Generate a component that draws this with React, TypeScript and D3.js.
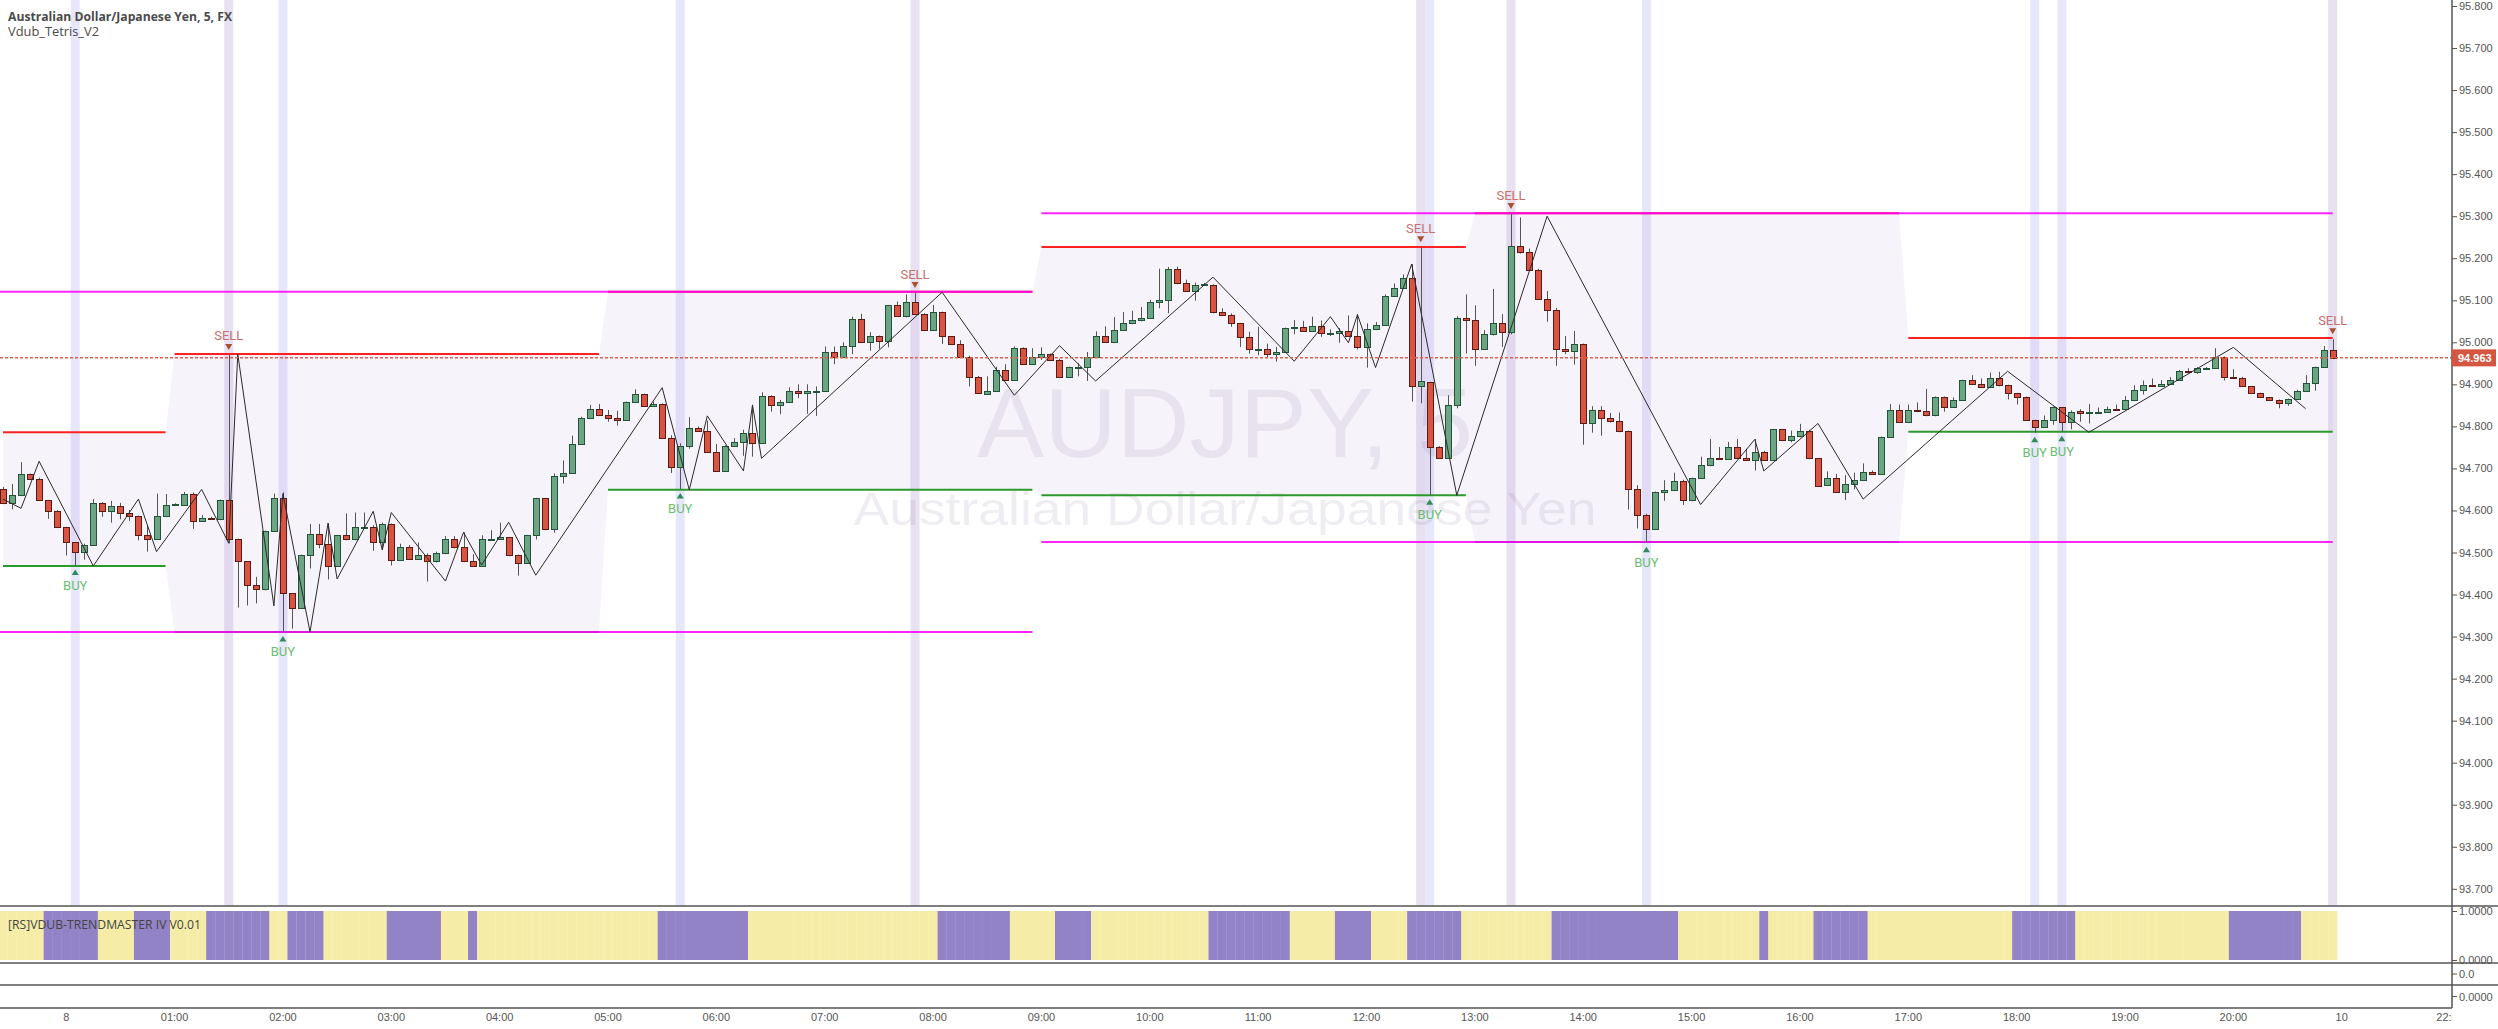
import { useEffect, useRef } from "react";
import * as d3 from "d3";

const width = 2498;
const height = 1029;

// 5-minute AUDJPY bars
const opens = [
  94.652, 94.617, 94.636, 94.686, 94.676, 94.624, 94.598, 94.56, 94.524, 94.5,
  94.519, 94.617, 94.598, 94.61, 94.594, 94.587, 94.541, 94.533, 94.586, 94.614,
  94.614, 94.64, 94.575, 94.583, 94.58, 94.624, 94.533, 94.479, 94.422, 94.412,
  94.552, 94.629, 94.403, 94.369, 94.495, 94.545, 94.521, 94.469, 94.541, 94.531,
  94.559, 94.561, 94.524, 94.567, 94.483, 94.514, 94.485, 94.495, 94.479, 94.498,
  94.533, 94.512, 94.479, 94.469, 94.531, 94.533, 94.536, 94.493, 94.476, 94.541,
  94.629, 94.555, 94.683, 94.69, 94.759, 94.821, 94.842, 94.828, 94.821, 94.815,
  94.858, 94.877, 94.848, 94.854, 94.772, 94.703, 94.753, 94.796, 94.79, 94.739,
  94.693, 94.753, 94.762, 94.785, 94.76, 94.873, 94.85, 94.858, 94.884, 94.879,
  94.882, 94.884, 94.977, 94.965, 94.991, 95.055, 95.0, 95.015, 95.003, 95.088,
  95.062, 95.097, 95.067, 95.029, 95.072, 95.015, 94.996, 94.966, 94.917, 94.878,
  94.884, 94.934, 94.91, 94.986, 94.948, 94.966, 94.971, 94.958, 94.917, 94.939,
  94.941, 94.965, 95.015, 95.0, 95.029, 95.046, 95.053, 95.057, 95.096, 95.1,
  95.175, 95.14, 95.122, 95.136, 95.136, 95.071, 95.066, 95.045, 95.012, 94.981,
  94.983, 94.971, 94.978, 95.033, 95.036, 95.028, 95.038, 95.021, 95.021, 95.026,
  95.016, 94.99, 95.031, 95.042, 95.111, 95.128, 95.154, 94.897, 94.906, 94.751,
  94.725, 94.85, 95.057, 95.054, 94.985, 95.019, 95.047, 95.024, 95.228, 95.214,
  95.173, 95.104, 95.076, 94.985, 94.98, 94.995, 94.809, 94.838, 94.821, 94.812,
  94.788, 94.65, 94.59, 94.557, 94.643, 94.649, 94.671, 94.624, 94.677, 94.707,
  94.724, 94.722, 94.752, 94.724, 94.72, 94.74, 94.721, 94.793, 94.767, 94.776,
  94.79, 94.724, 94.661, 94.677, 94.643, 94.663, 94.672, 94.692, 94.687, 94.774,
  94.839, 94.81, 94.839, 94.837, 94.826, 94.869, 94.845, 94.863, 94.91, 94.902,
  94.893, 94.914, 94.898, 94.879, 94.869, 94.815, 94.798, 94.815, 94.845, 94.81,
  94.836, 94.832, 94.833, 94.834, 94.841, 94.841, 94.862, 94.887, 94.898, 94.896,
  94.902, 94.91, 94.931, 94.93, 94.937, 94.938, 94.966, 94.917, 94.916, 94.895,
  94.879, 94.869, 94.863, 94.855, 94.864, 94.884, 94.903, 94.941, 94.981,
];
const highs = [
  94.656, 94.663, 94.715, 94.688, 94.678, 94.625, 94.601, 94.561, 94.525, 94.521,
  94.627, 94.62, 94.623, 94.618, 94.601, 94.588, 94.565, 94.64, 94.639, 94.617,
  94.644, 94.643, 94.589, 94.585, 94.626, 94.97, 94.533, 94.479, 94.442, 94.552,
  94.64, 94.643, 94.403, 94.495, 94.568, 94.568, 94.569, 94.542, 94.593, 94.595,
  94.595, 94.565, 94.571, 94.569, 94.521, 94.518, 94.524, 94.498, 94.502, 94.539,
  94.539, 94.548, 94.496, 94.541, 94.553, 94.571, 94.537, 94.495, 94.542, 94.63,
  94.63, 94.688, 94.719, 94.778, 94.823, 94.851, 94.853, 94.839, 94.837, 94.859,
  94.888, 94.878, 94.859, 94.855, 94.779, 94.76, 94.822, 94.8, 94.814, 94.758,
  94.755, 94.772, 94.792, 94.851, 94.881, 94.874, 94.863, 94.893, 94.9, 94.9,
  94.895, 94.99, 94.99, 95.0, 95.061, 95.068, 95.024, 95.016, 95.089, 95.097,
  95.114, 95.117, 95.069, 95.089, 95.073, 95.015, 95.005, 94.968, 94.92, 94.919,
  94.942, 94.948, 94.99, 94.988, 94.986, 94.988, 94.973, 94.961, 94.942, 94.95,
  94.977, 95.026, 95.038, 95.06, 95.072, 95.075, 95.084, 95.101, 95.175, 95.179,
  95.18, 95.149, 95.142, 95.141, 95.138, 95.081, 95.069, 95.046, 95.025, 95.037,
  94.997, 94.989, 95.035, 95.053, 95.051, 95.061, 95.052, 95.031, 95.034, 95.064,
  95.067, 95.045, 95.048, 95.114, 95.14, 95.161, 95.186, 95.226, 94.906, 94.753,
  94.874, 95.062, 95.114, 95.088, 95.029, 95.127, 95.067, 95.305, 95.297, 95.223,
  95.175, 95.122, 95.082, 95.015, 95.027, 94.997, 94.848, 94.848, 94.832, 94.833,
  94.79, 94.66, 94.592, 94.645, 94.672, 94.69, 94.673, 94.678, 94.728, 94.77,
  94.751, 94.763, 94.77, 94.747, 94.77, 94.742, 94.794, 94.794, 94.79, 94.806,
  94.792, 94.725, 94.693, 94.687, 94.684, 94.69, 94.712, 94.695, 94.776, 94.853,
  94.852, 94.852, 94.857, 94.889, 94.871, 94.871, 94.869, 94.911, 94.922, 94.914,
  94.928, 94.93, 94.899, 94.88, 94.871, 94.816, 94.826, 94.847, 94.846, 94.838,
  94.841, 94.853, 94.845, 94.847, 94.852, 94.872, 94.898, 94.909, 94.914, 94.91,
  94.917, 94.934, 94.938, 94.941, 94.941, 94.986, 94.966, 94.936, 94.918, 94.896,
  94.88, 94.87, 94.864, 94.866, 94.887, 94.922, 94.942, 94.991, 95.007,
];
const lows = [
  94.615, 94.603, 94.634, 94.675, 94.623, 94.58, 94.558, 94.493, 94.469, 94.483,
  94.518, 94.585, 94.571, 94.579, 94.575, 94.529, 94.502, 94.531, 94.584, 94.613,
  94.613, 94.556, 94.573, 94.579, 94.577, 94.522, 94.369, 94.374, 94.379, 94.41,
  94.551, 94.311, 94.319, 94.368, 94.462, 94.51, 94.436, 94.468, 94.529, 94.529,
  94.557, 94.504, 94.506, 94.469, 94.482, 94.483, 94.483, 94.431, 94.476, 94.496,
  94.51, 94.477, 94.468, 94.468, 94.529, 94.532, 94.491, 94.445, 94.475, 94.531,
  94.553, 94.547, 94.664, 94.689, 94.758, 94.819, 94.826, 94.811, 94.802, 94.813,
  94.856, 94.846, 94.846, 94.77, 94.689, 94.651, 94.747, 94.788, 94.737, 94.692,
  94.692, 94.751, 94.73, 94.728, 94.758, 94.835, 94.829, 94.856, 94.867, 94.83,
  94.825, 94.882, 94.948, 94.963, 94.972, 94.999, 94.98, 94.984, 94.988, 95.061,
  95.059, 95.065, 95.027, 95.027, 94.996, 94.994, 94.965, 94.895, 94.877, 94.877,
  94.882, 94.908, 94.908, 94.946, 94.946, 94.958, 94.956, 94.915, 94.915, 94.919,
  94.908, 94.963, 94.999, 94.998, 95.027, 95.043, 95.05, 95.056, 95.081, 95.069,
  95.138, 95.12, 95.099, 95.134, 95.069, 95.065, 95.037, 94.989, 94.973, 94.969,
  94.963, 94.954, 94.977, 95.019, 95.027, 95.026, 95.013, 95.015, 94.999, 95.013,
  94.983, 94.94, 95.029, 95.041, 95.11, 95.127, 94.859, 94.855, 94.636, 94.724,
  94.724, 94.843, 94.973, 94.944, 94.983, 95.016, 94.989, 95.019, 95.211, 95.172,
  95.103, 95.049, 94.944, 94.972, 94.947, 94.756, 94.785, 94.778, 94.809, 94.786,
  94.602, 94.557, 94.523, 94.556, 94.623, 94.648, 94.613, 94.622, 94.675, 94.705,
  94.72, 94.72, 94.722, 94.718, 94.695, 94.72, 94.72, 94.765, 94.762, 94.774,
  94.722, 94.658, 94.658, 94.642, 94.625, 94.65, 94.67, 94.685, 94.685, 94.773,
  94.808, 94.808, 94.835, 94.824, 94.824, 94.835, 94.844, 94.861, 94.9, 94.891,
  94.891, 94.895, 94.864, 94.852, 94.813, 94.785, 94.796, 94.804, 94.787, 94.793,
  94.811, 94.807, 94.831, 94.833, 94.838, 94.839, 94.861, 94.876, 94.895, 94.895,
  94.9, 94.908, 94.928, 94.925, 94.937, 94.937, 94.909, 94.914, 94.895, 94.877,
  94.868, 94.861, 94.843, 94.849, 94.863, 94.883, 94.885, 94.939, 94.96,
];
const closes = [
  94.617, 94.636, 94.686, 94.676, 94.624, 94.598, 94.56, 94.524, 94.5, 94.519,
  94.617, 94.598, 94.61, 94.593, 94.587, 94.541, 94.533, 94.586, 94.614, 94.615,
  94.64, 94.575, 94.583, 94.58, 94.624, 94.533, 94.479, 94.422, 94.412, 94.552,
  94.629, 94.403, 94.369, 94.495, 94.545, 94.521, 94.469, 94.541, 94.531, 94.56,
  94.561, 94.524, 94.567, 94.483, 94.514, 94.485, 94.495, 94.479, 94.498, 94.533,
  94.512, 94.479, 94.469, 94.531, 94.533, 94.536, 94.493, 94.476, 94.541, 94.629,
  94.555, 94.683, 94.69, 94.759, 94.821, 94.842, 94.828, 94.821, 94.814, 94.858,
  94.877, 94.848, 94.853, 94.772, 94.703, 94.753, 94.796, 94.79, 94.739, 94.693,
  94.753, 94.762, 94.785, 94.76, 94.873, 94.85, 94.858, 94.884, 94.879, 94.884,
  94.884, 94.977, 94.965, 94.991, 95.055, 95.0, 95.015, 95.003, 95.088, 95.062,
  95.097, 95.067, 95.029, 95.072, 95.015, 94.996, 94.966, 94.917, 94.879, 94.884,
  94.934, 94.91, 94.986, 94.948, 94.966, 94.971, 94.958, 94.917, 94.941, 94.941,
  94.965, 95.015, 95.0, 95.029, 95.046, 95.053, 95.057, 95.096, 95.1, 95.175,
  95.14, 95.122, 95.136, 95.138, 95.072, 95.066, 95.045, 95.012, 94.983, 94.983,
  94.971, 94.978, 95.033, 95.036, 95.028, 95.038, 95.021, 95.023, 95.026, 95.016,
  94.99, 95.031, 95.042, 95.111, 95.128, 95.154, 94.897, 94.907, 94.751, 94.725,
  94.85, 95.057, 95.054, 94.985, 95.019, 95.047, 95.024, 95.228, 95.214, 95.173,
  95.104, 95.076, 94.985, 94.98, 94.995, 94.809, 94.838, 94.821, 94.812, 94.788,
  94.65, 94.59, 94.557, 94.643, 94.649, 94.671, 94.624, 94.677, 94.707, 94.724,
  94.722, 94.752, 94.724, 94.72, 94.74, 94.721, 94.793, 94.767, 94.776, 94.79,
  94.724, 94.659, 94.677, 94.643, 94.663, 94.672, 94.692, 94.687, 94.774, 94.839,
  94.81, 94.839, 94.837, 94.826, 94.869, 94.845, 94.863, 94.91, 94.902, 94.893,
  94.914, 94.898, 94.879, 94.869, 94.815, 94.798, 94.815, 94.845, 94.81, 94.835,
  94.832, 94.834, 94.834, 94.841, 94.84, 94.862, 94.887, 94.898, 94.896, 94.902,
  94.91, 94.931, 94.93, 94.938, 94.939, 94.966, 94.917, 94.916, 94.896, 94.879,
  94.869, 94.863, 94.855, 94.864, 94.884, 94.903, 94.941, 94.981, 94.963,
];

// Tetris zones (bar ranges) with their resistance / support levels
const zoneStarts = [0, 19, 67, 115, 163, 211];
const zoneEnds = [18, 66, 114, 162, 210, 258];
const resistance = [94.786, 94.972, 95.12, 95.227, 95.307, 95.01];
const support = [94.468, 94.311, 94.649, 94.636, 94.525, 94.787];

// outer range boxes (magenta)
const boxStarts = [0, 115];
const boxEnds = [114, 258];
const boxHighs = [95.12, 95.307];
const boxLows = [94.311, 94.525];

// zigzag pivots
const zigzagBars = [
  0, 2, 4, 10, 15, 17, 22, 25, 26, 30, 31, 34, 36, 37, 41, 42, 43, 49, 51, 53,
  56, 59, 73, 76, 78, 82, 83, 84, 104, 112, 117, 121, 134, 143, 147, 149, 150,
  152, 156, 161, 171, 188, 194, 195, 201, 206, 222, 231, 247, 255,
];
const zigzagPrices = [
  94.627, 94.605, 94.717, 94.468, 94.627, 94.502, 94.65, 94.522, 94.972, 94.373,
  94.64, 94.311, 94.57, 94.437, 94.598, 94.506, 94.595, 94.432, 94.548, 94.47,
  94.572, 94.446, 94.892, 94.649, 94.825, 94.694, 94.851, 94.724, 95.119, 94.874,
  94.992, 94.908, 95.155, 94.955, 95.061, 94.999, 95.066, 94.94, 95.186, 94.636,
  95.3, 94.614, 94.769, 94.694, 94.807, 94.627, 94.931, 94.786, 94.988, 94.842,
];

const sellBars = [25, 101, 157, 167, 258];
const buyBars = [8, 31, 75, 158, 182, 225, 228];

// TrendMaster bearish runs (purple columns)
const bearRunStarts = [5, 15, 23, 32, 43, 52, 73, 104, 117, 134, 148, 156, 172, 195, 201, 223, 247];
const bearRunEnds = [10, 18, 29, 35, 48, 52, 82, 111, 120, 142, 151, 161, 185, 195, 206, 229, 254];

const priceTicks = [
  93.7, 93.8, 93.9, 94.0, 94.1, 94.2, 94.3, 94.4, 94.5, 94.6, 94.7, 94.8, 94.9,
  95.0, 95.1, 95.2, 95.3, 95.4, 95.5, 95.6, 95.7, 95.8,
];
const timeBars = [7, 19, 31, 43, 55, 67, 79, 91, 103, 115, 127, 139, 151, 163, 175, 187, 199, 211, 223, 235, 247, 259, 271];
const timeLabels = [
  "8", "01:00", "02:00", "03:00", "04:00", "05:00", "06:00", "07:00", "08:00", "09:00", "10:00",
  "11:00", "12:00", "13:00", "14:00", "15:00", "16:00", "17:00", "18:00", "19:00", "20:00", "10", "22:00",
];

const App = () => {
  const svgRef = useRef<SVGSVGElement | null>(null);

  useEffect(() => {
    if (!svgRef.current) return;
    const svg = d3.select(svgRef.current);
    svg.selectAll("*").remove();

    const axisX = 2452;
    const mainBottom = 906;
    const font = "'Liberation Sans', Arial, sans-serif";

    const x = d3.scaleLinear().domain([0, opens.length - 1]).range([3, 2332.7]);
    const y = d3.scaleLinear().domain([93.7, 95.8]).range([888.8, 6]);
    const yInd = d3.scaleLinear().domain([0, 1]).range([960, 911]);
    const step = x(1) - x(0);
    const bars = d3.range(opens.length);
    const zoneOf = (i: number) => zoneStarts.findIndex((s, k) => i >= s && i <= zoneEnds[k]);
    const isBear = (i: number) => bearRunStarts.some((s, k) => i >= s && i <= bearRunEnds[k]);

    svg.append("rect").attr("width", width).attr("height", height).attr("fill", "#ffffff");

    const defs = svg.append("defs");
    defs.append("clipPath").attr("id", "clip-main")
      .append("rect").attr("width", axisX).attr("height", mainBottom);
    defs.append("clipPath").attr("id", "clip-time")
      .append("rect").attr("y", 1008).attr("width", axisX).attr("height", height - 1008);

    const main = svg.append("g").attr("clip-path", "url(#clip-main)");

    // signal bar highlights
    main.append("g").selectAll("rect").data(buyBars).join("rect")
      .attr("x", (d) => x(d) - step / 2).attr("y", 0)
      .attr("width", step).attr("height", mainBottom)
      .attr("fill", "#e7e7fb");
    main.append("g").selectAll("rect").data(sellBars).join("rect")
      .attr("x", (d) => x(d) - step / 2).attr("y", 0)
      .attr("width", step).attr("height", mainBottom)
      .attr("fill", "#e8e1f1");

    // watermark
    main.append("text")
      .attr("x", 1225).attr("y", 457).attr("text-anchor", "middle")
      .attr("font-family", font).attr("font-size", 98)
      .attr("textLength", 496).attr("lengthAdjust", "spacingAndGlyphs")
      .attr("fill", "rgba(70,50,100,0.085)")
      .text("AUDJPY, 5");
    main.append("text")
      .attr("x", 1225).attr("y", 525).attr("text-anchor", "middle")
      .attr("font-family", font).attr("font-size", 46)
      .attr("textLength", 743).attr("lengthAdjust", "spacingAndGlyphs")
      .attr("fill", "rgba(70,50,100,0.085)")
      .text("Australian Dollar/Japanese Yen");

    // zone fill
    const area = d3.area<number>()
      .x((i) => x(i))
      .y0((i) => y(support[zoneOf(i)]))
      .y1((i) => y(resistance[zoneOf(i)]));
    main.append("path").datum(bars).attr("d", area).attr("fill", "rgba(150,90,200,0.075)");

    // support / resistance levels
    const levels = main.append("g");
    zoneStarts.forEach((s, k) => {
      levels.append("line")
        .attr("x1", x(s)).attr("x2", x(zoneEnds[k]))
        .attr("y1", y(support[k])).attr("y2", y(support[k]))
        .attr("stroke", "#2b9a2b").attr("stroke-width", 2);
      levels.append("line")
        .attr("x1", x(s)).attr("x2", x(zoneEnds[k]))
        .attr("y1", y(resistance[k])).attr("y2", y(resistance[k]))
        .attr("stroke", "#ff2020").attr("stroke-width", 2);
    });
    boxStarts.forEach((s, k) => {
      [boxHighs[k], boxLows[k]].forEach((v) => {
        levels.append("line")
          .attr("x1", s === 0 ? 0 : x(s)).attr("x2", x(boxEnds[k]))
          .attr("y1", y(v)).attr("y2", y(v))
          .attr("stroke", "#ff00ff").attr("stroke-width", 2).attr("opacity", 0.85);
      });
    });

    // candles
    const candles = main.append("g").selectAll("g").data(bars).join("g");
    candles.append("line")
      .attr("x1", (i) => Math.round(x(i)) + 0.5).attr("x2", (i) => Math.round(x(i)) + 0.5)
      .attr("y1", (i) => y(highs[i])).attr("y2", (i) => y(lows[i]))
      .attr("stroke", "#555").attr("stroke-width", 1);
    candles.append("rect")
      .attr("x", (i) => Math.round(x(i)) - 2.5)
      .attr("width", 6)
      .attr("y", (i) => Math.round(y(Math.max(opens[i], closes[i]))) + 0.5)
      .attr("height", (i) =>
        Math.max(1, Math.round(y(Math.min(opens[i], closes[i]))) - Math.round(y(Math.max(opens[i], closes[i])))),
      )
      .attr("fill", (i) => (closes[i] >= opens[i] ? "#6ba583" : "#d75442"))
      .attr("stroke", (i) => (closes[i] >= opens[i] ? "#225437" : "#5b1a13"))
      .attr("stroke-width", 1);

    // zigzag
    const zig = d3.line<number>().x((k) => x(zigzagBars[k])).y((k) => y(zigzagPrices[k]));
    main.append("path").datum(d3.range(zigzagBars.length))
      .attr("d", zig).attr("fill", "none")
      .attr("stroke", "#2a2a2a").attr("stroke-width", 1);

    // signals
    const signals = main.append("g");
    sellBars.forEach((i) => {
      const cx = x(i);
      const top = y(highs[i]);
      signals.append("path")
        .attr("d", `M${cx - 3.5},${top - 11}L${cx + 3.5},${top - 11}L${cx},${top - 5}Z`)
        .attr("fill", "#a8502f");
      signals.append("text")
        .attr("x", cx).attr("y", top - 14.5).attr("text-anchor", "middle")
        .attr("font-family", "Roboto, sans-serif").attr("font-size", 13)
        .attr("fill", "#c76e6e").text("SELL");
    });
    buyBars.forEach((i) => {
      const cx = x(i);
      const bottom = y(lows[i]);
      signals.append("path")
        .attr("d", `M${cx - 3.5},${bottom + 9.5}L${cx + 3.5},${bottom + 9.5}L${cx},${bottom + 4}Z`)
        .attr("fill", "#2e8b57");
      signals.append("text")
        .attr("x", cx).attr("y", bottom + 24).attr("text-anchor", "middle")
        .attr("font-family", "Roboto, sans-serif").attr("font-size", 13)
        .attr("fill", "#6dbd72").text("BUY");
    });

    // last price line
    const last = closes[closes.length - 1];
    main.append("line")
      .attr("x1", 0).attr("x2", axisX).attr("y1", y(last)).attr("y2", y(last))
      .attr("stroke", "#e0604f").attr("stroke-width", 1.5).attr("stroke-dasharray", "3,2");

    // header
    svg.append("text")
      .attr("x", 8).attr("y", 21).attr("font-family", "'Open Sans', sans-serif")
      .attr("font-size", 12.5).attr("font-weight", 700).attr("fill", "#4a4a4a")
      .attr("textLength", 224).attr("lengthAdjust", "spacingAndGlyphs")
      .text("Australian Dollar/Japanese Yen, 5, FX");
    svg.append("text")
      .attr("x", 8).attr("y", 36).attr("font-family", "'Open Sans', sans-serif")
      .attr("font-size", 12.5).attr("fill", "#4a4a4a")
      .attr("textLength", 91).attr("lengthAdjust", "spacingAndGlyphs")
      .text("Vdub_Tetris_V2");

    // TrendMaster pane
    svg.append("g").selectAll("rect").data(bars).join("rect")
      .attr("x", (i) => Math.max(0, x(i) - step / 2))
      .attr("width", (i) => x(i) + step / 2 - Math.max(0, x(i) - step / 2) + 0.2)
      .attr("y", yInd(1)).attr("height", yInd(0) - yInd(1))
      .attr("fill", (i) => (isBear(i) ? "#9283c6" : "#f5eda7"));
    svg.append("text")
      .attr("x", 8).attr("y", 928.5).attr("font-family", "'Open Sans', sans-serif")
      .attr("font-size", 13).attr("fill", "#444")
      .attr("textLength", 193).attr("lengthAdjust", "spacingAndGlyphs")
      .text("[RS]VDUB-TRENDMASTER IV V0.01");

    // pane separators and axis line
    const frame = svg.append("g").attr("stroke", "#555").attr("stroke-width", 1.5);
    [906, 963, 985].forEach((py) => {
      frame.append("line").attr("x1", 0).attr("x2", width).attr("y1", py).attr("y2", py);
    });
    frame.append("line").attr("x1", 0).attr("x2", axisX).attr("y1", 1008).attr("y2", 1008);
    frame.append("line").attr("x1", axisX).attr("x2", axisX).attr("y1", 0).attr("y2", 1008);

    // price axis
    const priceAxis = svg.append("g")
      .attr("transform", `translate(${axisX},0)`)
      .call(d3.axisRight(y).tickValues(priceTicks).tickFormat(d3.format(".3f")).tickSize(5).tickPadding(2));
    priceAxis.select(".domain").remove();
    priceAxis.attr("color", "#555").attr("font-family", font).attr("font-size", 11);

    const indAxis = svg.append("g")
      .attr("transform", `translate(${axisX},0)`)
      .call(d3.axisRight(yInd).tickValues([0, 1]).tickFormat(d3.format(".4f")).tickSize(5).tickPadding(2));
    indAxis.select(".domain").remove();
    indAxis.attr("color", "#555").attr("font-family", font).attr("font-size", 11);

    const extraPanes = [
      { y: 974, label: "0.0" },
      { y: 996.5, label: "0.0000" },
    ];
    extraPanes.forEach((p) => {
      svg.append("line").attr("x1", axisX).attr("x2", axisX + 5).attr("y1", p.y).attr("y2", p.y).attr("stroke", "#555");
      svg.append("text").attr("x", axisX + 7).attr("y", p.y + 4)
        .attr("font-family", font).attr("font-size", 11).attr("fill", "#555").text(p.label);
    });

    // last price tag
    svg.append("rect")
      .attr("x", axisX).attr("y", y(last) - 8.5).attr("width", 44).attr("height", 17)
      .attr("fill", "#d65541");
    svg.append("text")
      .attr("x", axisX + 6).attr("y", y(last) + 4)
      .attr("font-family", font).attr("font-size", 11).attr("font-weight", 700)
      .attr("fill", "#ffffff").text(d3.format(".3f")(last));

    // time axis
    svg.append("g").attr("clip-path", "url(#clip-time)")
      .selectAll("text").data(timeBars).join("text")
      .attr("x", (d) => x(d)).attr("y", 1021).attr("text-anchor", "middle")
      .attr("font-family", font).attr("font-size", 11).attr("fill", "#555")
      .text((_d, k) => timeLabels[k]);
  }, []);

  return (
    <div style={{ position: "absolute", left: 0, top: 0 }}>
      <svg ref={svgRef} width={width} height={height} style={{ display: "block" }} />
    </div>
  );
};

export default App;
